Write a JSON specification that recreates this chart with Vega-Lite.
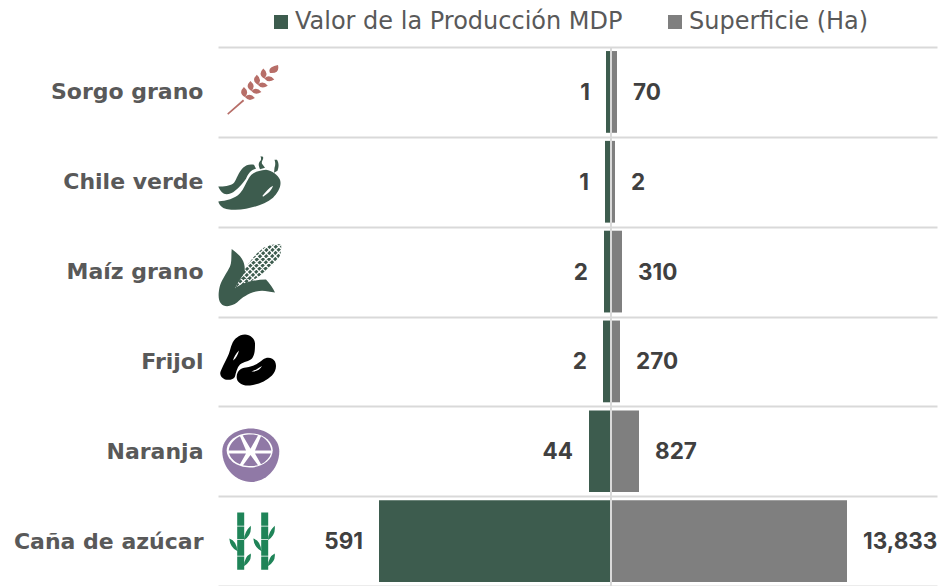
{"$schema":"https://vega.github.io/schema/vega-lite/v6.json","width":719,"height":539,"autosize":"none","padding":{"left":218,"top":47,"right":8,"bottom":0},"background":"#ffffff","config":{"view":{"stroke":null},"font":"Inter"},"data":{"values":[{"cultivo":"Sorgo grano","serie":"Valor de la Producción MDP","valor":1,"largo":-5},{"cultivo":"Sorgo grano","serie":"Superficie (Ha)","valor":70,"largo":6},{"cultivo":"Chile verde","serie":"Valor de la Producción MDP","valor":1,"largo":-6},{"cultivo":"Chile verde","serie":"Superficie (Ha)","valor":2,"largo":4},{"cultivo":"Maíz grano","serie":"Valor de la Producción MDP","valor":2,"largo":-7},{"cultivo":"Maíz grano","serie":"Superficie (Ha)","valor":310,"largo":11},{"cultivo":"Frijol","serie":"Valor de la Producción MDP","valor":2,"largo":-8},{"cultivo":"Frijol","serie":"Superficie (Ha)","valor":270,"largo":9},{"cultivo":"Naranja","serie":"Valor de la Producción MDP","valor":44,"largo":-22},{"cultivo":"Naranja","serie":"Superficie (Ha)","valor":827,"largo":28},{"cultivo":"Caña de azúcar","serie":"Valor de la Producción MDP","valor":591,"largo":-232},{"cultivo":"Caña de azúcar","serie":"Superficie (Ha)","valor":13833,"largo":236}]},"encoding":{"y":{"field":"cultivo","type":"nominal","title":null,"sort":["Sorgo grano","Chile verde","Maíz grano","Frijol","Naranja","Caña de azúcar"],"scale":{"paddingInner":0,"paddingOuter":0},"axis":{"ticks":false,"domain":false,"grid":true,"gridColor":"#d9d9d9","gridWidth":2,"tickBand":"extent","labelPadding":15,"labelFontSize":22,"labelFontWeight":"bold","labelColor":"#595959","labelFont":"DejaVu Sans","labelLimit":215}}},"layer":[{"mark":{"type":"bar","height":{"band":0.91}},"encoding":{"x":{"field":"largo","type":"quantitative","title":null,"axis":null,"scale":{"domain":[-393,326],"nice":false,"zero":false}},"color":{"field":"serie","type":"nominal","scale":{"domain":["Valor de la Producción MDP","Superficie (Ha)"],"range":["#3d5c4e","#7f7f7f"]},"legend":{"orient":"none","legendX":51,"legendY":-37,"direction":"horizontal","title":null,"symbolType":"square","symbolSize":196,"symbolStrokeWidth":0,"labelFontSize":24,"labelColor":"#595959","labelFont":"DejaVu Sans","labelOffset":2,"columnPadding":40,"labelLimit":500}}}},{"mark":{"type":"rule","color":"#d9d9d9","strokeWidth":2},"encoding":{"x":{"datum":0},"y":{"value":0},"y2":{"value":539}}},{"transform":[{"filter":"datum.largo<0"}],"mark":{"type":"text","align":"right","baseline":"middle","dx":-16,"dy":1,"fontSize":22.5,"fontWeight":"bold","color":"#404040"},"encoding":{"x":{"field":"largo","type":"quantitative"},"text":{"field":"valor","type":"quantitative","format":","}}},{"transform":[{"filter":"datum.largo>0"}],"mark":{"type":"text","align":"left","baseline":"middle","dx":16,"dy":1,"fontSize":22.5,"fontWeight":"bold","color":"#404040"},"encoding":{"x":{"field":"largo","type":"quantitative"},"text":{"field":"valor","type":"quantitative","format":","}}},{"data":{"values":[{"cultivo":"Sorgo grano","parte":"espiga"},{"cultivo":"Chile verde","parte":"chile"},{"cultivo":"Chile verde","parte":"chile_brillo"},{"cultivo":"Maíz grano","parte":"grano"},{"cultivo":"Maíz grano","parte":"rejilla"},{"cultivo":"Maíz grano","parte":"hoja"},{"cultivo":"Frijol","parte":"frijol"},{"cultivo":"Frijol","parte":"frijol_brillo"},{"cultivo":"Naranja","parte":"naranja"},{"cultivo":"Naranja","parte":"disco"},{"cultivo":"Naranja","parte":"gajos"},{"cultivo":"Caña de azúcar","parte":"cana"}]},"mark":{"type":"point","filled":true,"size":4,"strokeWidth":1.3},"encoding":{"x":{"datum":-361},"shape":{"field":"parte","type":"nominal","legend":null,"scale":{"domain":["espiga","chile","chile_brillo","grano","rejilla","hoja","frijol","frijol_brillo","naranja","disco","gajos","cana"],"range":["M-22.8 21.5L-7 7.5L-5.8 9L-21.8 22.8ZM-5.1 5.2Q-12.1 1.2 -6.1 -4.8Q-0.1 0.2 -5.1 5.2ZM-5.1 5.2Q-1.1 10.2 4.9 6.2Q-0.1 0.2 -5.1 5.2ZM1.4 -1Q-5.6 -5 0.4 -11Q6.4 -6 1.4 -1ZM1.4 -1Q5.4 4 11.4 0Q6.4 -6 1.4 -1ZM7.8 -7.2Q0.8 -11.2 6.8 -17.2Q12.8 -12.2 7.8 -7.2ZM7.8 -7.2Q11.8 -2.2 17.8 -6.2Q12.8 -12.2 7.8 -7.2ZM14.3 -13.4Q7.3 -17.4 13.3 -23.4Q19.3 -18.4 14.3 -13.4ZM14.3 -13.4Q18.3 -8.4 24.3 -12.4Q19.3 -18.4 14.3 -13.4ZM20 -19Q17 -25 28 -27Q30 -18 20 -19Z","M-31.7 4.7C-25 5 -19 4 -16 1C-13 -3 -12 -9 -7 -14C-4 -17 0 -18 4 -17L6 -13C1 -12 -2 -8 -4 -3C-7 1 -11 6 -15 9C-18 12 -23 13 -26 12C-29 10 -31 7 -31.7 4.7ZM10.5 -25.5L13 -25C14 -22 11 -21 12 -18L15 -14L10 -12.5C8 -17 8.5 -19 10.5 -21C11.5 -23 11 -24 10.5 -25.5ZM24.5 -22L27 -22C29.5 -18 28.5 -14 27.5 -11L24 -9L24.5 -14C25.5 -17 25.5 -19 24.5 -22ZM-31.7 19.7C-24 19 -15 17 -10 11.5C-6 7 -4 1 -1.5 -3C1 -8 6 -11 16 -12C22 -11 28 -7 30 -2C32 4 28 11 23 16C16 22 6 25 -4 27C-13 29 -24 28 -27 26C-30 24 -31 22 -31.7 19.7Z","M12.5 14C16 10 19 6 23 4C22 8 18 12 13 15Z","M-15 18C-10 4 0 -14 14 -24C20 -27 27 -28 31 -27C32 -20 30 -14 26 -10C18 -1 5 9 -8 14Z","M-18.9 10L25.1 -33M-15.9 13L28.1 -30M-13 16L31 -27M-10.1 19L33.9 -24M-7.1 22L36.9 -21M-18.2 4.25L-1.4 21.45M-15 1.1L1.8 18.3M-11.7 -2L5.1 15.2M-8.5 -5.2L8.3 12M-5.3 -8.35L11.5 8.85M-2.1 -11.5L14.7 5.7M1.1 -14.65L17.9 2.55M4.4 -17.8L21.2 -0.6M7.6 -20.95L24.4 -3.75M10.8 -24.1L27.6 -6.9M14 -27.25L30.8 -10.05M17.2 -30.4L34 -13.2M20.4 -33.55L37.2 -16.35","M-18.3 -22.7C-12 -18 -7 -13 -6 -8C-5 -4 -5 -1 -6 2C-10 8 -13 12 -15 17C-9 12 3 8 16 8C20 12 23 17 25 21C18 20 13 18 6 20C-2 22 -8 26 -13 31C-18 35 -26 36 -29 32C-32 28 -32 22 -30 14C-28 8 -23 1 -20 -5C-18 -10 -19 -16 -18.3 -22.7Z","M-5 -27C0 -27 5 -23 5 -18C5 -12 5 -7 2 -3C-1 0 -6 0 -10 3C-13 6 -14 11 -15 15C-16 18 -21 19 -25 18C-29 16 -31 13 -29 9C-26 2 -23 -3 -21 -8C-19 -14 -18 -21 -13 -24C-11 -26 -8 -27 -5 -27ZM-13.3 15C-13 9 -9 6.5 -4 6C3 5.5 8 2 13 -2C17 -5 23 -4 25 0C27 4 26 10 22 14C16 20 8 23 0 24C-7 25 -14 21 -13.3 15Z","M-11 -11C-12 -7 -14 -3 -17 -1C-16 -5 -14 -8 -11 -11ZM1.5 10C5 9 8 7 12 4.5C10 8 6 10.5 1.5 10Z","M-27.7 0C-27.7 -13 -14 -22.7 1 -22.7C16 -22.7 29.3 -13 29.3 0C29.3 17 16 30.7 1 30.7C-14 30.7 -27.7 17 -27.7 0Z","M-23.3 -0.9C-23.3 -10.4 -13 -18.1 -0.3 -18.1C12.4 -18.1 22.7 -10.4 22.7 -0.9C22.7 8.6 12.4 16.3 -0.3 16.3C-13 16.3 -23.3 8.6 -23.3 -0.9Z","M-4 -0.7L-21.3 -0.7C-20.8 -6 -16.5 -12 -10 -15ZM0.5 -2.5L-7.3 -15.7C-3 -17 4 -17 8 -15.7ZM5 -0.7L11 -15C17 -12 20.8 -6 21.3 -0.7ZM-4 2.2L-21 2.2C-19.5 6.5 -16 10.5 -10 13ZM0.5 3.8L-7 14C-3 15 4 15 8 14ZM5 2.2L21 2.2C19.5 6.5 16 10.5 11 13Z","M-12.8 -28.7H-5.8V-15.3H-12.8ZM-12.8 -14.7H-5.8V-2H-12.8ZM-12.8 -1.3H-5.8V14.7H-12.8ZM-12.8 15.3H-5.8V28.7H-12.8ZM-5.8 -1Q-6 -9 0.7 -15.3Q2 -6 -5.8 -1ZM-12.8 10Q-20 6 -20.7 -2.7Q-13 0 -12.8 10ZM-5.8 25Q-6 16 0.7 12.3Q2 20 -5.8 25ZM11.2 -28.7H18.2V-15.3H11.2ZM11.2 -14.7H18.2V-2H11.2ZM11.2 -1.3H18.2V14.7H11.2ZM11.2 15.3H18.2V28.7H11.2ZM18.2 -1Q18 -9 24.7 -15.3Q26 -6 18.2 -1ZM11.2 10Q4 6 3.3 -2.7Q11 0 11.2 10ZM18.2 25Q18 16 24.7 12.3Q26 20 18.2 25Z"]}},"fill":{"field":"parte","type":"nominal","legend":null,"scale":{"domain":["espiga","chile","chile_brillo","grano","rejilla","hoja","frijol","frijol_brillo","naranja","disco","gajos","cana"],"range":["#b76e68","#3d5c4e","#ffffff","#3d5c4e","transparent","#3d5c4e","#000000","#ffffff","#9079a6","#ffffff","#9079a6","#1f8458"]}},"stroke":{"condition":{"test":"datum.parte==='rejilla'","value":"#ffffff"},"value":"transparent"},"opacity":{"value":1}}}]}
